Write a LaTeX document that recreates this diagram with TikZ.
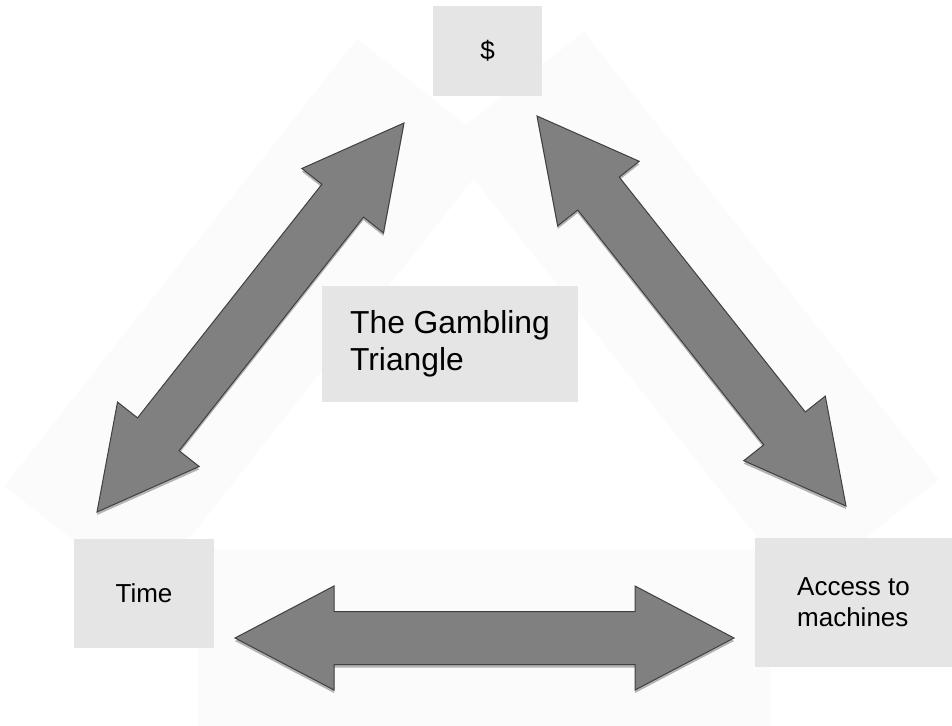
\documentclass[tikz,border=0pt]{standalone}
\usepackage{fontspec}
\setmainfont{Liberation Sans}
\usepackage{tikz}
\usetikzlibrary{calc}
\newcommand{\tiplen}{49.5pt}
\newcommand{\tipwid}{26pt}
\newcommand{\shaftwid}{13.25pt}
\newcommand{\glowband}[2]{\coordinate (e1) at ($(#1)!-18.5pt!(#2)$); \coordinate (e2) at ($(#2)!-18.5pt!(#1)$);
  \fill[bandfill] ($(e1)!44.5pt!90:(#2)$) -- ($(e2)!44.5pt!-90:(#1)$) -- ($(e2)!44.5pt!90:(#1)$) -- ($(e1)!44.5pt!-90:(#2)$) -- cycle;}
\newcommand{\fatarrow}[3][arrowfill]{\coordinate (h1) at ($(#2)!\tiplen!(#3)$); \coordinate (h2) at ($(#3)!\tiplen!(#2)$);
  \path[#1] (#2) -- ($(h1)!\tipwid!90:(#2)$) -- ($(h1)!\shaftwid!90:(#2)$) -- ($(h2)!\shaftwid!-90:(#3)$) -- ($(h2)!\tipwid!-90:(#3)$)
    -- (#3) -- ($(h2)!\tipwid!90:(#3)$) -- ($(h2)!\shaftwid!90:(#3)$) -- ($(h1)!\shaftwid!-90:(#2)$) -- ($(h1)!\tipwid!-90:(#2)$) -- cycle;}

\begin{document}
\begin{tikzpicture}[x=0.5pt, y=-0.5pt,
    box/.style={fill=black!10, inner sep=0pt, font=\fontsize{13}{15.5}\selectfont},
    bandfill/.style={fill=black!1.5},
    arrowfill/.style={fill=black!50, draw=black!75, line width=0.5pt},
    arrowshade/.style={fill=black!30, transform canvas={yshift=-1.5pt}}]
        \useasboundingbox (0,0) rectangle (952,726);
        % arrow ends
        \coordinate (lt) at (404,123);
        \coordinate (lb) at (97,512);
        \coordinate (rt) at (537,116);
        \coordinate (rb) at (846,506);
        \coordinate (bl) at (235,638);
        \coordinate (br) at (734,638);
        % faint bands
        \glowband{lb}{lt}
        \glowband{rt}{rb}
        \glowband{bl}{br}
        % boxes
        \node[box, minimum width=54.5pt, minimum height=45pt] (money) at (487.5,51) {\$};
        \node[box, minimum width=70pt, minimum height=54.5pt] (time) at (144,593.5) {Time};
        \node[box, minimum width=98.5pt, minimum height=64.5pt, align=left] (access) at (853.5,602.5) {Access to\\machines};
        \node[box, minimum width=128pt, minimum height=58pt, align=left, font=\fontsize{15.9}{18.5}\selectfont] (title) at (450,344) {The Gambling\\Triangle};
        % time -- money
        \fatarrow[arrowshade]{lb}{lt}
        \fatarrow{lb}{lt}
        % money -- access
        \fatarrow[arrowshade]{rt}{rb}
        \fatarrow{rt}{rb}
        % time -- access
        \fatarrow[arrowshade]{bl}{br}
        \fatarrow{bl}{br}
    \end{tikzpicture}
\end{document}
